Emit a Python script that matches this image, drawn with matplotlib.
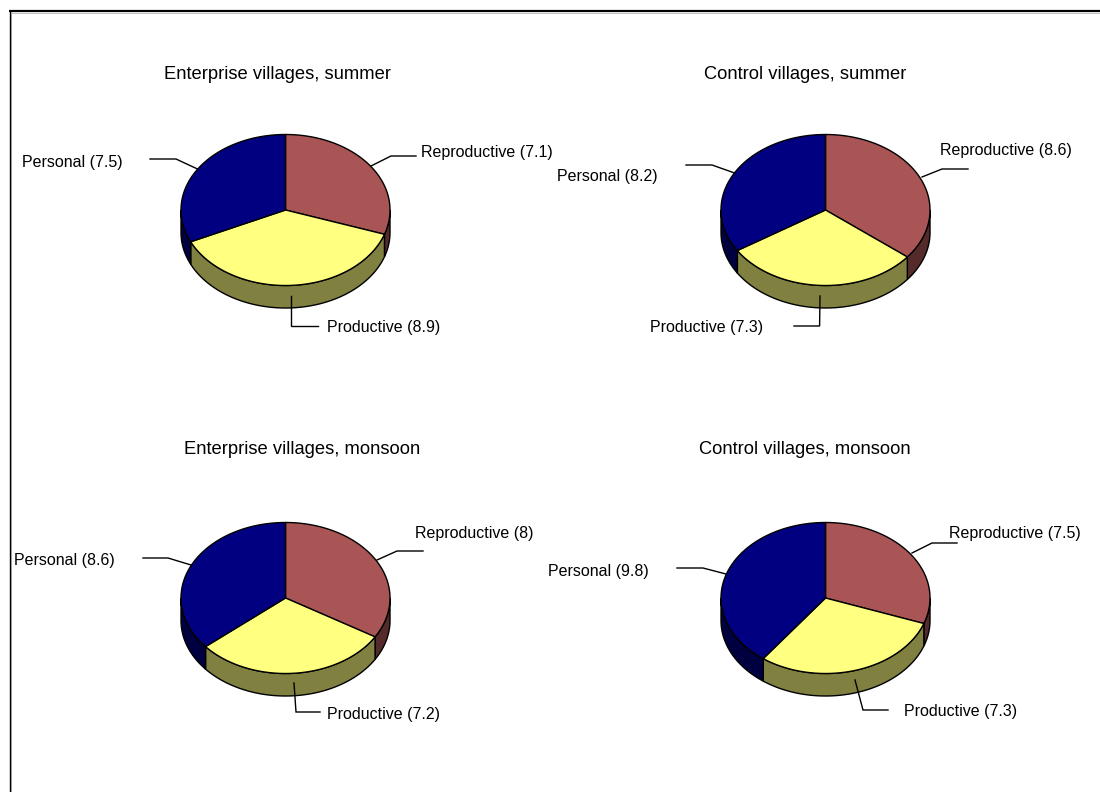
import numpy as np
import matplotlib
matplotlib.use("Agg")
import matplotlib.pyplot as plt
from matplotlib.patches import Polygon

plt.rcParams['font.family'] = ['Liberation Sans', 'DejaVu Sans']

titles = ["Enterprise villages, summer", "Control villages, summer",
          "Enterprise villages, monsoon", "Control villages, monsoon"]
categories = ["Reproductive", "Productive", "Personal"]
enterprise_summer = [7.1, 8.9, 7.5]
control_summer = [8.6, 7.3, 8.2]
enterprise_monsoon = [8.0, 7.2, 8.6]
control_monsoon = [7.5, 7.3, 9.8]
panels = [enterprise_summer, control_summer, enterprise_monsoon, control_monsoon]

top_colors = ["#AA5555", "#FFFF80", "#000080"]
side_colors = ["#552A2A", "#808040", "#000040"]

# Canvas geometry, in pixels
W, H = 1100, 792
RX, RY, DEPTH = 104.5, 75.5, 22.5
centers = [(285.5, 210), (825.5, 210), (285.5, 598), (825.5, 598)]
title_pos = [(277.5, 74.5), (805.5, 74.5), (301.7, 449), (805, 449)]
label_left = [
    [(421, 152.2), (327, 327.2), (22, 162.2)],
    [(940, 150.5), (650, 327.2), (557, 176.2)],
    [(415, 533.8), (327, 714.8), (14, 560.5)],
    [(949, 533.8), (904, 711.2), (548, 571.2)],
]
leaders = [
    [[(371, 166), (391, 156), (416, 156)],
     [(291, 296), (291, 326), (318, 326)],
     [(197.5, 169), (176, 159), (150, 159)]],
    [[(922, 177), (942, 169), (968, 169)],
     [(820, 296), (819.6, 326), (794, 326)],
     [(734.6, 173), (712, 165), (686, 165)]],
    [[(377, 560), (397, 551), (423, 551)],
     [(294, 683), (296, 712), (320, 712)],
     [(191, 565), (168, 558), (143, 558)]],
    [[(912, 553), (932, 543), (957, 543)],
     [(855, 680), (863, 710), (888, 710)],
     [(726, 574), (703, 568), (677, 568)]],
]

fig = plt.figure(figsize=(W / 100, H / 100), dpi=100, facecolor="white")
ax = fig.add_axes([0, 0, 1, 1])
ax.set_xlim(0, W)
ax.set_ylim(H, 0)
ax.axis("off")


def rim(cx, cy, start, stop, dy=0.0):
    """Points along the pie rim, angles clockwise from twelve o'clock."""
    t = np.radians(np.linspace(start, stop, max(int(abs(stop - start)) * 2, 2)))
    return np.column_stack([cx + RX * np.sin(t), cy + dy - RY * np.cos(t)])


def draw_pie(values, cx, cy):
    edges = np.concatenate([[0], np.cumsum(values)]) / np.sum(values) * 360
    # Side wall: only the front half of the rim faces the viewer
    for i in range(len(values)):
        a, b = max(edges[i], 90), min(edges[i + 1], 270)
        if a < b:
            upper = rim(cx, cy, a, b)
            lower = rim(cx, cy, a, b, DEPTH)[::-1]
            ax.add_patch(Polygon(np.vstack([upper, lower]), closed=True,
                                 fc=side_colors[i], ec="black", lw=1, zorder=2))
    # Top face
    for i in range(len(values)):
        pts = np.vstack([[(cx, cy)], rim(cx, cy, edges[i], edges[i + 1])])
        ax.add_patch(Polygon(pts, closed=True, fc=top_colors[i], ec="black",
                             lw=1, zorder=3, joinstyle="round"))


for k, values in enumerate(panels):
    cx, cy = centers[k]
    draw_pie(values, cx, cy)
    ax.text(*title_pos[k], titles[k], ha="center", va="center", fontsize=13.2,
            color="black")
    for j, name in enumerate(categories):
        xs, ys = zip(*leaders[k][j])
        ax.plot(xs, ys, color="black", lw=1, zorder=4, solid_joinstyle="miter")
        x, y = label_left[k][j]
        ax.text(x, y, f"{name} ({values[j]:g})", ha="left", va="center",
                fontsize=11.5, color="black", zorder=5)

# Chart frame: heavy top rule and thinner left rule, each with a pale inner edge
ax.plot([11, W], [12.8, 12.8], color="#c4c4c4", lw=0.8, solid_capstyle="butt")
ax.plot([10.8, 10.8], [12, H], color="#c4c4c4", lw=0.8, solid_capstyle="butt")
ax.plot([9, W], [11, 11], color="black", lw=1.6, solid_capstyle="butt")
ax.plot([9.5, 9.5], [10, H], color="black", lw=1.0, solid_capstyle="butt")

fig.savefig("out.png", dpi=100, facecolor="white")
